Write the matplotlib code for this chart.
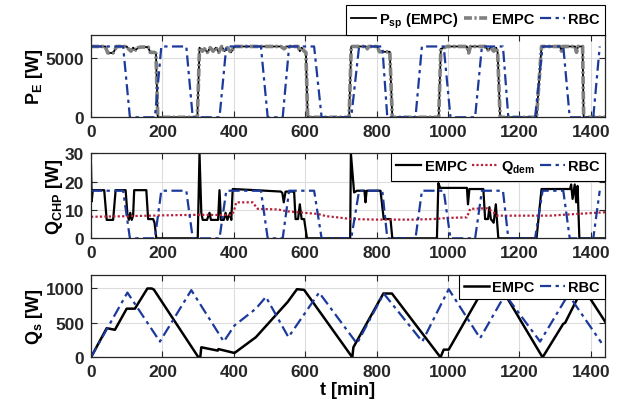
import matplotlib
matplotlib.use("Agg")
import matplotlib.pyplot as plt

plt.rcParams['font.family'] = ['Liberation Sans', 'DejaVu Sans']
plt.rcParams['font.weight'] = 'bold'
plt.rcParams['axes.labelweight'] = 'bold'
plt.rcParams['mathtext.fontset'] = 'custom'
plt.rcParams['mathtext.bf'] = 'Liberation Sans:bold'
plt.rcParams['mathtext.rm'] = 'Liberation Sans:bold'
plt.rcParams['mathtext.default'] = 'bf'

# ---- data ----
# P_E setpoint / EMPC
pe_t = [0, 40, 47, 62, 72, 100, 105, 112, 118, 125, 132, 140, 160, 166, 178, 182, 187,
        298, 304, 312, 318, 326, 334, 342, 350, 358, 366, 374, 382, 392, 402,
        532, 541, 548, 580, 585, 590, 597, 602, 607,
        723, 729, 770, 774, 778, 802, 808, 837, 844,
        974, 980, 997, 1053, 1058, 1063, 1104, 1112, 1120, 1128, 1135, 1139, 1146,
        1248, 1262, 1314, 1318, 1322, 1356, 1360, 1364, 1377, 1380, 1440]
pe_sp = [6000, 6000, 5450, 5450, 6000, 6000, 5800, 5600, 5900, 5700, 5900, 5950, 5950, 5500, 5500, 5400, 0,
         0, 5900, 5600, 5800, 5500, 5900, 5600, 5900, 5500, 6000, 5600, 5900, 5500, 6000,
         6000, 5800, 6000, 6000, 5600, 5900, 5600, 5500, 0,
         0, 6000, 6000, 5800, 6000, 6000, 5550, 5550, 0,
         0, 5800, 6000, 6000, 5450, 6000, 6000, 5700, 5900, 5600, 5900, 5500, 0,
         0, 6000, 6000, 5600, 6000, 6000, 5500, 6000, 6000, 0, 0]
pe_empc = list(pe_sp)

# RBC switching times (shared by P_E and Q_CHP)
rbc_t = [0, 90, 109, 179, 197, 267, 285, 360, 379, 476, 495, 537, 555, 625, 646,
         729, 751, 816, 830, 909, 927, 988, 1007, 1076, 1095, 1154, 1169,
         1244, 1265, 1323, 1341, 1407, 1425]
pe_rbc = [6000, 6000, 0, 0, 6000, 6000, 0, 0, 6000, 6000, 0, 0, 6000, 6000, 0,
          0, 6000, 6000, 0, 0, 6000, 6000, 0, 0, 6000, 6000, 0,
          0, 6000, 6000, 0, 0, 6000]
qchp_rbc = [16.8, 16.8, 0, 0, 16.8, 16.8, 0, 0, 16.8, 16.8, 0, 0, 16.8, 16.8, 0,
            0, 16.8, 16.8, 0, 0, 16.8, 16.8, 0, 0, 16.8, 16.8, 0,
            0, 16.8, 16.8, 0, 0, 16.8]

# Q_CHP EMPC
qchp_t = [0, 2, 5, 37, 44, 62, 69, 97, 102, 106, 110, 114, 118, 121, 155, 160, 174, 178, 183,
          299, 304, 309, 313, 325, 332, 336, 356, 360, 364, 372, 377, 382, 390, 393, 397,
          460, 532, 536, 540, 545, 569, 573, 580, 585, 590, 597, 605,
          726, 728, 737, 745, 766, 769, 772, 811, 820, 839, 844,
          969, 973, 978, 1053, 1056, 1060, 1099, 1104, 1112, 1116, 1120, 1128, 1134, 1137, 1141,
          1248, 1262, 1342, 1345, 1349, 1355, 1359, 1363, 1368, 1440]
qchp_empc = [26, 13, 17, 17, 6.5, 6.5, 17, 17, 8.5, 6.5, 9, 6.5, 8, 17, 17, 6.8, 6.8, 5.5, 0,
             0, 30, 9, 6.5, 6.5, 9, 6.5, 6.5, 17, 6.5, 6.5, 9, 6.5, 9, 6.5, 17.4,
             17, 16.5, 16, 12.7, 16.5, 16.5, 6.8, 6.8, 12, 6.8, 6.8, 0,
             0, 30, 16.2, 16.8, 16.8, 12.7, 16.8, 16.8, 6.8, 6.8, 0,
             0, 19.5, 17.8, 17.8, 12, 17.4, 17.4, 6.8, 6.8, 11, 6.8, 5.5, 12, 6.8, 0,
             0, 17.4, 17.4, 19, 13.9, 19, 12.7, 18.5, 0, 0]

# Q_dem
qdem_t = [0, 100, 200, 300, 393, 400, 407, 453, 460, 467, 523, 551, 579, 635, 660, 690, 728,
          800, 900, 960, 1000, 1053, 1062, 1109, 1125, 1137, 1286, 1360, 1440]
qdem = [7.6, 7.8, 8.1, 8.3, 8.2, 9.5, 12.7, 12.7, 11.5, 10.4, 10.2, 9.5, 9.2, 8.6, 7.8, 7.4, 6.8,
        6.6, 6.6, 6.8, 7.2, 7.4, 10.4, 10.6, 9.5, 8.0, 8.0, 8.6, 9.2]

# Q_s storage
qs_t = [0, 44, 67, 100, 123, 158, 170, 176, 301, 306, 309, 355, 357, 402, 462, 551, 577, 597,
        732, 735, 819, 843, 979, 988, 1002, 1100, 1150, 1265, 1323, 1328, 1360, 1380, 1440]
qs_empc = [0, 424, 400, 707, 707, 1000, 1000, 985, 0, 0, 146, 98, 120, 63, 293, 805, 990, 980,
           0, 146, 927, 927, 0, 112, 112, 1000, 1000, 0, 488, 500, 830, 1000, 520]
qs_rbc_t = [0, 102, 193, 281, 372, 402, 462, 490, 553, 639, 745, 820, 928, 1002, 1090,
            1160, 1258, 1337, 1430]
qs_rbc = [0, 941, 229, 976, 229, 463, 707, 878, 293, 941, 200, 927, 229, 990, 278,
          912, 229, 912, 210]

# ---- plotting ----
blue = '#1c3a9c'
red = '#b8203a'
dashdot = (0, (5, 2, 1.5, 2))

fig = plt.figure(figsize=(6.31, 4.10), dpi=100)
ax1 = fig.add_axes([0.1442, 0.7115, 0.8147, 0.2015])
ax2 = fig.add_axes([0.1442, 0.4163, 0.8147, 0.2073])
ax3 = fig.add_axes([0.1442, 0.1260, 0.8147, 0.2015])

ax1.plot(pe_t, pe_sp, '-', color='k', lw=1.3, label='$P_{sp}$ (EMPC)')
ax1.plot(pe_t, pe_empc, color='#808080', lw=2.6, ls=(0, (2.2, 0.7, 0.6, 0.7)), label='EMPC')
ax1.plot(rbc_t, pe_rbc, color=blue, lw=1.6, ls=dashdot, label='RBC')
ax1.set_ylim(0, 7000)
ax1.set_yticks([0, 5000])
ax1.set_ylabel('$P_E$ [W]', fontsize=13, labelpad=0, fontweight='bold')

ax2.plot(qchp_t, qchp_empc, '-', color='k', lw=1.6, label='EMPC')
ax2.plot(qdem_t, qdem, color=red, lw=1.6, ls=(0, (1, 1)), label='$Q_{dem}$')
ax2.plot(rbc_t, qchp_rbc, color=blue, lw=1.6, ls=dashdot, label='RBC')
ax2.set_ylim(0, 30)
ax2.set_yticks([0, 10, 20, 30])
ax2.set_ylabel('$Q_{CHP}$ [W]', fontsize=13, labelpad=0, fontweight='bold')

ax3.plot(qs_t, qs_empc, '-', color='k', lw=1.8, label='EMPC')
ax3.plot(qs_rbc_t, qs_rbc, color=blue, lw=1.6, ls=dashdot, label='RBC')
ax3.set_ylim(0, 1200)
ax3.set_yticks([0, 500, 1000])
ax3.set_ylabel('$Q_s$ [W]', fontsize=13, labelpad=0, fontweight='bold')
ax3.set_xlabel('t [min]', fontsize=13, labelpad=1.5, fontweight='bold')

for ax in (ax1, ax2, ax3):
    ax.set_xlim(0, 1440)
    ax.set_xticks(range(0, 1401, 200))
    ax.grid(True, color='#dcdcdc', lw=0.8)
    ax.set_axisbelow(True)
    ax.tick_params(direction='in', top=True, right=True, length=4, width=0.8,
                   labelsize=12.5, colors='#262626')
    ax.tick_params(axis='x', pad=5)
    ax.tick_params(axis='y', pad=5)
    for lab in ax.get_xticklabels() + ax.get_yticklabels():
        lab.set_fontweight('bold')
    for sp in ax.spines.values():
        sp.set_color('#262626')
        sp.set_linewidth(0.9)

leg_kw = dict(fancybox=False, framealpha=1, edgecolor='k', borderaxespad=0,
              handlelength=1.7, handletextpad=0.25, columnspacing=0.35,
              borderpad=0.35, prop={'weight': 'bold', 'size': 10.5})
l1 = ax1.legend(loc='lower right', bbox_to_anchor=(1, 1), ncol=3, **leg_kw)
l2 = ax2.legend(loc='upper right', ncol=3, **leg_kw)
l3 = ax3.legend(loc='upper right', ncol=2, **leg_kw)
for l in (l1, l2, l3):
    l.get_frame().set_linewidth(0.8)

fig.savefig('out.png', dpi=100)
